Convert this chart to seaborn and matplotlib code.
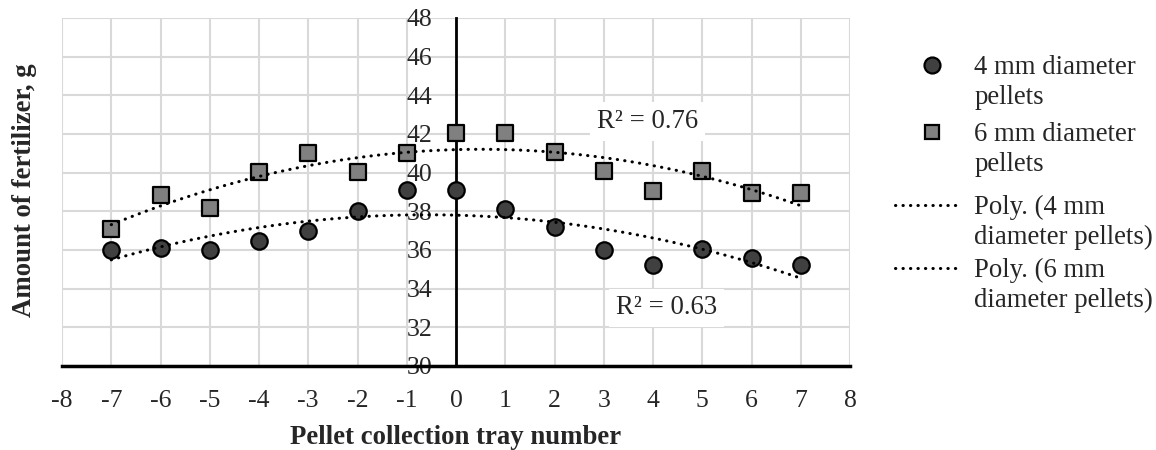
import numpy as np
import pandas as pd
import matplotlib
matplotlib.use('Agg')
import matplotlib.pyplot as plt
import seaborn as sns
from matplotlib.lines import Line2D

tray = [-7, -6, -5, -4, -3, -2, -1, 0, 1, 2, 3, 4, 5, 6, 7]
mm4 = [36.0, 36.1, 36.0, 36.45, 37.0, 38.0, 39.1, 39.1, 38.1, 37.2, 36.0, 35.2, 36.05, 35.6, 35.2]
mm6 = [37.1, 38.85, 38.15, 40.05, 41.0, 40.05, 41.0, 42.05, 42.05, 41.05, 40.1, 39.05, 40.1, 38.95, 38.95]

r2_6mm = 'R² = 0.76'
r2_4mm = 'R² = 0.63'

df = pd.DataFrame({'tray': tray, 'mm4': mm4, 'mm6': mm6})

sns.set_style('white')
plt.rcParams['font.family'] = ['Liberation Serif', 'DejaVu Serif']

W, H = 1156, 450
fig = plt.figure(figsize=(W / 100, H / 100), dpi=100)
ax = fig.add_axes([62 / W, 1 - 366 / H, (850 - 62) / W, (366 - 18) / H])

grid_c = '#d9d9d9'
for v in range(-8, 9):
    ax.axvline(v, color=grid_c, lw=1.5, zorder=0)
for v in range(30, 49, 2):
    ax.axhline(v, color=grid_c, lw=1.5, zorder=0)

dots = (0, (0.1, 2.35))
trend_kw = {'color': 'black', 'lw': 2.2, 'linestyle': dots,
            'dash_capstyle': 'round', 'zorder': 4}
sns.regplot(data=df, x='tray', y='mm4', order=2, ci=None, scatter=False, ax=ax,
            line_kws=trend_kw)
sns.regplot(data=df, x='tray', y='mm6', order=2, ci=None, scatter=False, ax=ax,
            line_kws=trend_kw)

sns.scatterplot(data=df, x='tray', y='mm4', marker='o', s=140, color='#404040',
                edgecolor='black', linewidth=1.6, ax=ax, zorder=3)
sns.scatterplot(data=df, x='tray', y='mm6', marker='s', s=125, color='#808080',
                edgecolor='black', linewidth=1.6, ax=ax, zorder=3)

ax.set_xlim(-8, 8)
ax.set_ylim(30, 48)
ax.set_xticks(range(-8, 9))
ax.set_yticks(range(30, 49, 2))

for s in ['top', 'right']:
    ax.spines[s].set_visible(False)
ax.spines['left'].set_position(('data', 0))
ax.spines['left'].set_color('black')
ax.spines['left'].set_linewidth(2)
ax.spines['bottom'].set_color('black')
ax.spines['bottom'].set_linewidth(2.5)
ax.spines['left'].set_zorder(2)

ax.tick_params(axis='x', length=0, pad=17, labelsize=18.5)
ax.tick_params(axis='y', length=0, pad=17, labelsize=18.5)
ax.set_xticklabels([str(v) for v in range(-8, 9)])
ax.set_yticklabels([str(v) for v in range(30, 49, 2)])
for t in ax.get_yticklabels():
    t.set_zorder(5)

ax.set_xlabel('')
ax.set_ylabel('')
fig.text(456 / W, 1 - 437 / H, 'Pellet collection tray number', fontsize=19.3,
         fontweight='bold', ha='center', va='center')
fig.text(25 / W, 1 - 190 / H, 'Amount of fertilizer, g', rotation=90, fontsize=19.3,
         fontweight='bold', ha='center', va='center')

ax.text(3.88, 42.67, r2_6mm, fontsize=19.3, ha='center', va='center', zorder=6,
        bbox=dict(facecolor='white', edgecolor='none', pad=5))
ax.text(4.28, 33.0, r2_4mm, fontsize=19.3, ha='center', va='center', zorder=6,
        bbox=dict(facecolor='white', edgecolor='none', pad=5))

blank = Line2D([], [], ls='none')
entries = [
    (Line2D([], [], marker='o', ls='none', ms=11.5, mfc='#404040', mec='black', mew=1.6),
     ['4 mm diameter', 'pellets'], 65, 901, 0.43),
    (Line2D([], [], marker='s', ls='none', ms=10.5, mfc='#808080', mec='black', mew=1.6),
     ['6 mm diameter', 'pellets'], 132, 901, 0.43),
    (Line2D([], [], color='black', lw=2.2, ls=dots, dash_capstyle='round'),
     ['Poly. (4 mm', 'diameter pellets)'], 205, 895, 0.65),
    (Line2D([], [], color='black', lw=2.2, ls=dots, dash_capstyle='round'),
     ['Poly. (6 mm', 'diameter pellets)'], 268, 895, 0.65),
]
for handle, lines, ycen, xleft, tpad in entries:
    fig.legend([handle, blank], lines, loc='upper left',
               bbox_to_anchor=(xleft / W, 1 - (ycen - 10) / H),
               frameon=False, fontsize=19.3, handlelength=2.3, handletextpad=tpad,
               labelspacing=0.17, borderpad=0, borderaxespad=0)

fig.savefig('out.png', dpi=100)
